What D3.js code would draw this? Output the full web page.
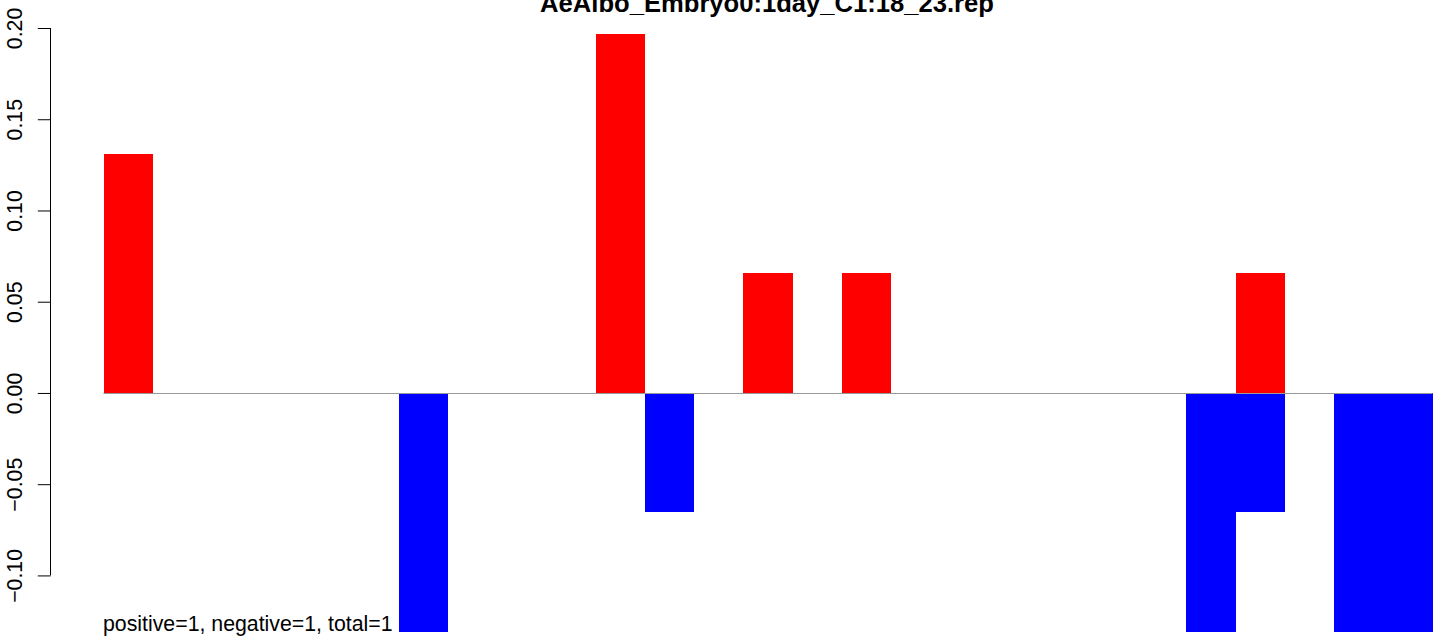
<!DOCTYPE html>
<html>
<head>
<meta charset="utf-8">
<script src="https://cdn.jsdelivr.net/npm/d3@7"></script>
<style>
  html, body { margin: 0; padding: 0; background: #fff; }
  svg { display: block; }
  text { font-family: "Liberation Sans", Arial, Helvetica, sans-serif; }
</style>
</head>
<body>
<svg id="chart" width="1433" height="638"></svg>
<script>
// ---- data ----
const title = "AeAlbo_Embryo0:1day_C1:18_23.rep";
const note = "positive=1, negative=1, total=1";
const positions = d3.range(27); // bar slots 0..26
const positiveValues = [0.131, 0, 0, 0, 0, 0, 0, 0, 0, 0, 0.1965, 0, 0, 0.0655, 0, 0.0655, 0, 0, 0, 0, 0, 0, 0, 0.0655, 0, 0, 0];
const negativeValues = [0, 0, 0, 0, 0, 0, -0.131, 0, 0, 0, 0, -0.0655, 0, 0, 0, 0, 0, 0, 0, 0, 0, 0, -0.131, -0.0655, 0, -0.131, -0.131];
const yTicks = [-0.10, -0.05, 0.00, 0.05, 0.10, 0.15, 0.20];
const yDomain = [-0.131, 0.20];

// ---- layout ----
const svg = d3.select("#chart");
const plotLeft = 103.5, plotRight = 1432.5;
const yTop = 28, yBottom = 632;

const x = d3.scaleBand().domain(positions).range([plotLeft, plotRight]).padding(0);
const y = d3.scaleLinear().domain(yDomain).range([yBottom, yTop]);

// positive bars
svg.append("g").selectAll("rect")
  .data(positions.filter(i => positiveValues[i] !== 0))
  .join("rect")
  .attr("x", i => x(i))
  .attr("width", x.bandwidth())
  .attr("y", i => y(positiveValues[i]))
  .attr("height", i => y(0) - y(positiveValues[i]))
  .attr("fill", "#ff0000")
  .attr("shape-rendering", "crispEdges");

// negative bars
svg.append("g").selectAll("rect")
  .data(positions.filter(i => negativeValues[i] !== 0))
  .join("rect")
  .attr("x", i => x(i))
  .attr("width", x.bandwidth())
  .attr("y", y(0))
  .attr("height", i => y(negativeValues[i]) - y(0))
  .attr("fill", "#0000ff")
  .attr("shape-rendering", "crispEdges");

// zero line
svg.append("line")
  .attr("x1", plotLeft).attr("x2", plotRight)
  .attr("y1", Math.round(y(0)) + 0.5).attr("y2", Math.round(y(0)) + 0.5)
  .attr("stroke", "#999999").attr("stroke-width", 1.2);

// y axis
const yAxis = d3.axisLeft(y)
  .tickValues(yTicks)
  .tickFormat(d3.format(".2f"))
  .tickSize(12.7)
  .tickSizeOuter(0);
const ag = svg.append("g")
  .attr("transform", "translate(50.5,0)")
  .call(yAxis);
ag.select(".domain").attr("stroke", "#000").attr("stroke-width", 1)
  .attr("d", `M0,${y(yTicks[0])}V${y(yTicks[yTicks.length-1])}`);
ag.selectAll(".tick line").attr("stroke", "#000");
ag.selectAll(".tick text")
  .attr("font-size", 21.3)
  .attr("fill", "#000")
  .attr("x", null).attr("dy", null)
  .attr("text-anchor", "middle")
  .attr("transform", "translate(-36,0) rotate(-90)")
  .attr("y", 0)
  .attr("dominant-baseline", "central")
  .text(d => d3.format(".2f")(d).replace("-", "\u2212"));

// title
svg.append("text")
  .attr("x", 767).attr("y", 12)
  .attr("text-anchor", "middle")
  .attr("font-size", 25.6)
  .attr("font-weight", "bold")
  .attr("fill", "#000")
  .text(title);

// note
svg.append("text")
  .attr("x", 103).attr("y", 631)
  .attr("font-size", 21.3)
  .attr("fill", "#000")
  .text(note);
</script>
</body>
</html>
